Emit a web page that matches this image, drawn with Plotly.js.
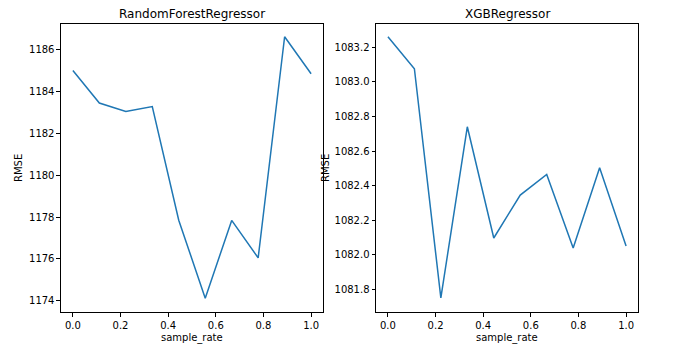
<!DOCTYPE html>
<html>
<head>
<meta charset="utf-8">
<script src="https://cdn.plot.ly/plotly-3.0.1.min.js"></script>
<style>html,body{margin:0;padding:0;background:#fff;}#chart{width:679px;height:352px;}</style>
</head>
<body>
<div id="chart"></div>
<script>
const sampleRate = [0, 0.1111, 0.2222, 0.3333, 0.4444, 0.5556, 0.6667, 0.7778, 0.8889, 1.0];
const rfRMSE = [1185.01, 1183.45, 1183.05, 1183.28, 1177.85, 1174.12, 1177.84, 1176.05, 1186.62, 1184.85];
const xgbRMSE = [1083.26, 1083.075, 1081.752, 1082.74, 1082.098, 1082.346, 1082.465, 1082.04, 1082.504, 1082.052];
const titles = ["RandomForestRegressor", "XGBRegressor"];
const xLabel = "sample_rate";
const yLabel = "RMSE";

const font = {family: "DejaVu Sans", size: 10, color: "#000"};
const lineStyle = {color: "#1f77b4", width: 1.5};

const traces = [
  {x: sampleRate, y: rfRMSE, type: "scatter", mode: "lines", line: lineStyle, xaxis: "x", yaxis: "y", hoverinfo: "none"},
  {x: sampleRate, y: xgbRMSE, type: "scatter", mode: "lines", line: lineStyle, xaxis: "x2", yaxis: "y2", hoverinfo: "none"}
];

function axisBase() {
  return {
    showgrid: false, zeroline: false, showline: true, mirror: true,
    linecolor: "#000", linewidth: 1, ticks: "outside", ticklen: 3.5,
    tickcolor: "#000", tickwidth: 1, tickfont: font
  };
}

const layout = {
  width: 679, height: 352,
  margin: {l: 0, r: 0, t: 0, b: 0},
  paper_bgcolor: "#fff", plot_bgcolor: "#fff",
  showlegend: false,
  font: font,
  xaxis: Object.assign(axisBase(), {domain: [0.0898, 0.4757], range: [-0.05, 1.05], tickvals: [0, 0.2, 0.4, 0.6, 0.8, 1.0], tickformat: ".1f", anchor: "y"}),
  yaxis: Object.assign(axisBase(), {domain: [0.1136, 0.9318], range: [1173.46, 1187.23], tickvals: [1174, 1176, 1178, 1180, 1182, 1184, 1186], anchor: "x"}),
  xaxis2: Object.assign(axisBase(), {domain: [0.5538, 0.9396], range: [-0.05, 1.05], tickvals: [0, 0.2, 0.4, 0.6, 0.8, 1.0], tickformat: ".1f", anchor: "y2"}),
  yaxis2: Object.assign(axisBase(), {domain: [0.1136, 0.9318], range: [1081.671, 1083.333], tickvals: [1081.8, 1082.0, 1082.2, 1082.4, 1082.6, 1082.8, 1083.0, 1083.2], tickformat: ".1f", anchor: "x2"}),
  annotations: [
    {text: titles[0], xref: "paper", yref: "paper", x: 192/679, y: 1 - 14/352, xanchor: "center", yanchor: "middle", showarrow: false, font: {family: "DejaVu Sans", size: 12, color: "#000"}},
    {text: titles[1], xref: "paper", yref: "paper", x: 507/679, y: 1 - 14/352, xanchor: "center", yanchor: "middle", showarrow: false, font: {family: "DejaVu Sans", size: 12, color: "#000"}},
    {text: xLabel, xref: "paper", yref: "paper", x: 192/679, y: 1 - 338/352, xanchor: "center", yanchor: "middle", showarrow: false, font: font},
    {text: xLabel, xref: "paper", yref: "paper", x: 507/679, y: 1 - 338/352, xanchor: "center", yanchor: "middle", showarrow: false, font: font},
    {text: yLabel, xref: "paper", yref: "paper", x: 18/679, y: 1 - 168/352, xanchor: "center", yanchor: "middle", textangle: -90, showarrow: false, font: font},
    {text: yLabel, xref: "paper", yref: "paper", x: 325/679, y: 1 - 168/352, xanchor: "center", yanchor: "middle", textangle: -90, showarrow: false, font: font}
  ]
};

Plotly.newPlot("chart", traces, layout, {displayModeBar: false, staticPlot: true});
</script>
</body>
</html>
